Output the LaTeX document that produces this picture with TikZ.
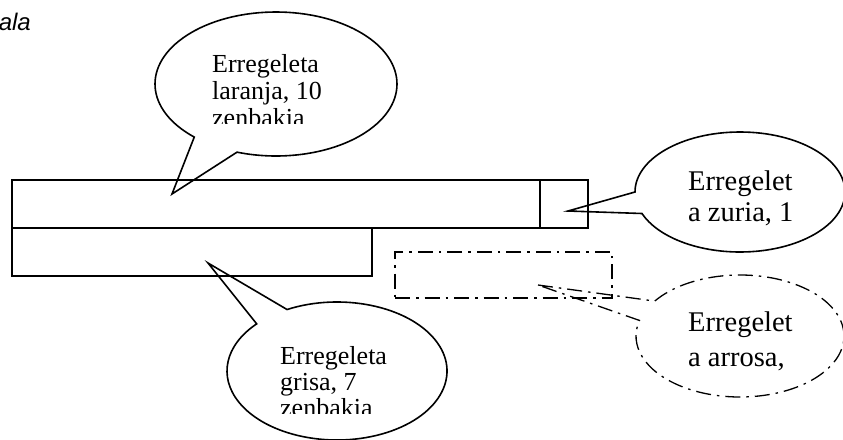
\documentclass[tikz,border=0pt]{standalone}
\usepackage{fontspec}
\setmainfont{Liberation Serif}
\newfontfamily\arialfont{Liberation Sans}
\usetikzlibrary{calc}
\begin{document}
\begin{tikzpicture}[x=1pt,y=-1pt,
  bar/.style={draw, line width=1.6pt, inner sep=0pt, outer sep=0pt},
  callout/.style={draw, line width=1.6pt, fill=white, line join=miter},
  dashdot/.style={line width=1.5pt, dash pattern=on 15pt off 6pt on 2.5pt off 6pt},
  lbl/.style={anchor=base west, inner sep=0pt, font=\fontsize{26}{30}\selectfont},
  rlbl/.style={anchor=base west, inner sep=0pt, font=\fontsize{28.5}{32}\selectfont},
]
\fill[white] (0,0) rectangle (843,439);
\useasboundingbox (0,0) rectangle (843,439);
\clip (0,0) rectangle (843,439);

% partial title
\node (title) [anchor=base east, inner sep=0pt, font=\arialfont\itshape\fontsize{24}{28}\selectfont] at (31,30) {ala};

% callout centres and tips
\coordinate (cO) at (276,84);
\coordinate (tipO) at (172,194);
\coordinate (cG) at (337,371);
\coordinate (tipG) at (208,263);
\coordinate (cW) at (740,192);
\coordinate (tipW) at (568,211);
\coordinate (cP) at (740,336);
\coordinate (tipP) at (538,285);

% callouts
\draw[callout] (tipO) -- ($(cO)+(132.5:121 and 72)$)
  arc[start angle=132.5, end angle=468.8, x radius=121, y radius=72] -- cycle;
\draw[callout] (tipG) -- ($(cG)+(243:110 and 69)$)
  arc[start angle=243, end angle=583.1, x radius=110, y radius=69] -- cycle;
\draw[callout] (tipW) -- ($(cW)+(180:105 and 60)$)
  arc[start angle=180, end angle=519, x radius=105, y radius=60] -- cycle;
\draw[dashdot, fill=white, line width=1.3pt] (tipP) -- ($(cP)+(214.9:104 and 61)$)
  arc[start angle=214.9, end angle=554.8, x radius=104, y radius=61] -- cycle;

% bars
\node (orange) [bar, minimum width=528pt, minimum height=48pt] at (276,204) {};
\node (white) [bar, minimum width=48pt, minimum height=48pt] at (564,204) {};
\node (grey) [bar, minimum width=360pt, minimum height=48pt] at (192,252) {};
\node (pink) [draw, dashdot, inner sep=0pt, minimum width=217pt, minimum height=46pt] at (503.5,275) {};

% texts
\node (o1) [lbl] at (212,72) {Erregeleta};
\node (o2) [lbl] at (212,99) {laranja, 10};
\begin{scope}
\clip (0,0) rectangle (843,123);
\node (o3) [lbl] at (212,126) {zenbakia};
\end{scope}
\node (g1) [lbl] at (280,364) {Erregeleta};
\node (g2) [lbl] at (280,390) {grisa, 7};
\begin{scope}
\clip (0,0) rectangle (843,413);
\node (g3) [lbl] at (280,416) {zenbakia};
\end{scope}
\node (w1) [rlbl] at (688,190) {Erregelet};
\node (w2) [rlbl] at (688,221) {a zuria, 1};
\node (p1) [rlbl] at (688,331) {Erregelet};
\node (p2) [rlbl] at (688,366) {a arrosa,};
\end{tikzpicture}
\end{document}
